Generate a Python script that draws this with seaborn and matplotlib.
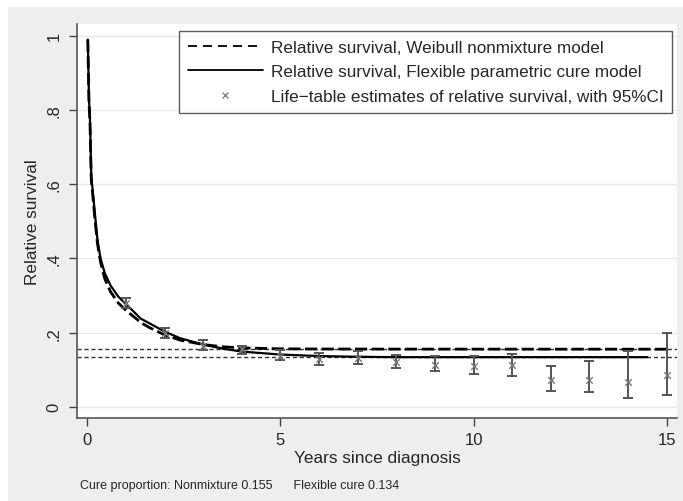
import numpy as np
import pandas as pd
import matplotlib
matplotlib.use("Agg")
import matplotlib.pyplot as plt
from matplotlib.patches import Rectangle
from matplotlib.lines import Line2D
import seaborn as sns

# ---- data ----
# Weibull nonmixture model (dashed)
nonmix_t = [0.01, 0.04, 0.065, 0.10, 0.13, 0.19, 0.26, 0.34, 0.45, 0.60, 0.80, 1.0,
            1.4, 1.62, 2.0, 2.4, 3.0, 3.5, 4.0, 5.0, 6.0, 8.0, 15.0]
nonmix_rs = [0.99, 0.82, 0.77, 0.61, 0.58, 0.51, 0.44, 0.39, 0.345, 0.310, 0.280, 0.260,
             0.226, 0.213, 0.194, 0.180, 0.168, 0.162, 0.159, 0.1565, 0.156, 0.1557, 0.1555]

# Flexible parametric cure model (solid)
flex_t = [0.01, 0.04, 0.065, 0.10, 0.13, 0.19, 0.26, 0.34, 0.45, 0.60, 0.80, 1.03,
          1.38, 2.0, 2.4, 3.0, 3.5, 4.0, 5.0, 6.0, 7.0, 8.0, 10.0, 12.0, 14.5]
flex_rs = [0.99, 0.83, 0.78, 0.62, 0.59, 0.525, 0.45, 0.40, 0.36, 0.327, 0.297, 0.274,
           0.238, 0.203, 0.185, 0.168, 0.157, 0.149, 0.141, 0.137, 0.135, 0.134, 0.134, 0.134, 0.134]

# life-table estimates with 95% CI
lt_year = [1, 2, 3, 4, 5, 6, 7, 8, 9, 10, 11, 12, 13, 14, 15]
lt_rs = [0.280, 0.200, 0.165, 0.155, 0.138, 0.129, 0.132, 0.120, 0.113, 0.111, 0.113, 0.073, 0.073, 0.067, 0.087]
lt_lo = [0.266, 0.185, 0.152, 0.142, 0.125, 0.114, 0.116, 0.104, 0.096, 0.089, 0.084, 0.044, 0.040, 0.024, 0.032]
lt_hi = [0.293, 0.212, 0.179, 0.165, 0.152, 0.146, 0.150, 0.141, 0.137, 0.137, 0.143, 0.110, 0.123, 0.150, 0.199]

cure_nonmix = 0.155
cure_flex = 0.134

# ---- style ----
sns.set_style("white")
plt.rcParams['font.family'] = ['Liberation Sans', 'DejaVu Sans']

fig = plt.figure(figsize=(6.83, 5.02), dpi=100)
fig.patch.set_facecolor("white")
W, H = 683, 502
fig.patches.append(Rectangle((8 / W, 0), 1 - 8 / W, 1 - 8 / H, transform=fig.transFigure,
                             facecolor="#eeeeee", edgecolor="none", zorder=0))

ax = fig.add_axes([77 / W, 1 - 419 / H, 600 / W, 394 / H])
ax.set_facecolor("white")
ax.set_zorder(1)

for yv in [0, 0.2, 0.4, 0.6, 0.8, 1.0]:
    ax.axhline(yv, color="#e8e8e8", lw=1.0, zorder=0)

# cure proportions as dotted reference lines
for c in [cure_nonmix, cure_flex]:
    ax.axhline(c, color="#333333", lw=1.0, ls=(0, (3, 2)), zorder=1)

nonmix = pd.DataFrame({"t": nonmix_t, "rs": nonmix_rs})
flex = pd.DataFrame({"t": flex_t, "rs": flex_rs})
sns.lineplot(data=nonmix, x="t", y="rs", ax=ax, color="black", lw=2.0,
             linestyle=(0, (4.4, 1.6)), zorder=3)
sns.lineplot(data=flex, x="t", y="rs", ax=ax, color="black", lw=1.6, zorder=3)

lt_rs_a = np.array(lt_rs)
yerr = [lt_rs_a - np.array(lt_lo), np.array(lt_hi) - lt_rs_a]
ax.errorbar(lt_year, lt_rs, yerr=yerr, fmt="none", ecolor="#555555", elinewidth=1.4,
            capsize=3.5, capthick=1.4, zorder=4)
sns.scatterplot(x=lt_year, y=lt_rs, ax=ax, marker="x", color="#777777", s=22,
                linewidth=1.0, zorder=5)

ax.set_xlim(-0.27, 15.27)
ax.set_ylim(-0.03, 1.032)
ax.set_xticks([0, 5, 10, 15])
ax.set_yticks([0, 0.2, 0.4, 0.6, 0.8, 1.0])
ax.set_yticklabels(["0", ".2", ".4", ".6", ".8", "1"])
ax.tick_params(axis="both", direction="out", length=6, width=1, color="#444444",
               labelsize=12, pad=4, left=True, bottom=True)
ax.tick_params(axis="y", labelrotation=90, pad=5)
for lbl in ax.get_yticklabels():
    lbl.set_va("center")

for side in ["top", "right"]:
    ax.spines[side].set_visible(False)
for side in ["left", "bottom"]:
    ax.spines[side].set_color("#555555")
    ax.spines[side].set_linewidth(1.2)

ax.set_xlabel("Years since diagnosis", fontsize=12.4, labelpad=2)
ax.set_ylabel("Relative survival", fontsize=12.4, labelpad=5)

handles = [
    Line2D([], [], color="black", lw=1.3, linestyle=(0, (5, 3.3))),
    Line2D([], [], color="black", lw=1.3),
    Line2D([], [], color="#777777", marker="x", ls="none", markersize=5, markeredgewidth=0.9),
]
labels = ["Relative survival, Weibull nonmixture model",
          "Relative survival, Flexible parametric cure model",
          "Life\u2212table estimates of relative survival, with 95%CI"]
leg = ax.legend(handles, labels, loc="upper right", bbox_to_anchor=(0.992, 0.982),
                borderaxespad=0, fontsize=12.3, handlelength=4.4, handletextpad=0.47,
                labelspacing=0.56, frameon=True, fancybox=False, borderpad=0.51)
leg.get_frame().set_edgecolor("#333333")
leg.get_frame().set_linewidth(1.0)

fig.text(80 / W, 1 - 486 / H, "Cure proportion: Nonmixture %.3f      Flexible cure %.3f"
         % (cure_nonmix, cure_flex), fontsize=9, va="center", ha="left")

fig.savefig("out.png", dpi=100)
